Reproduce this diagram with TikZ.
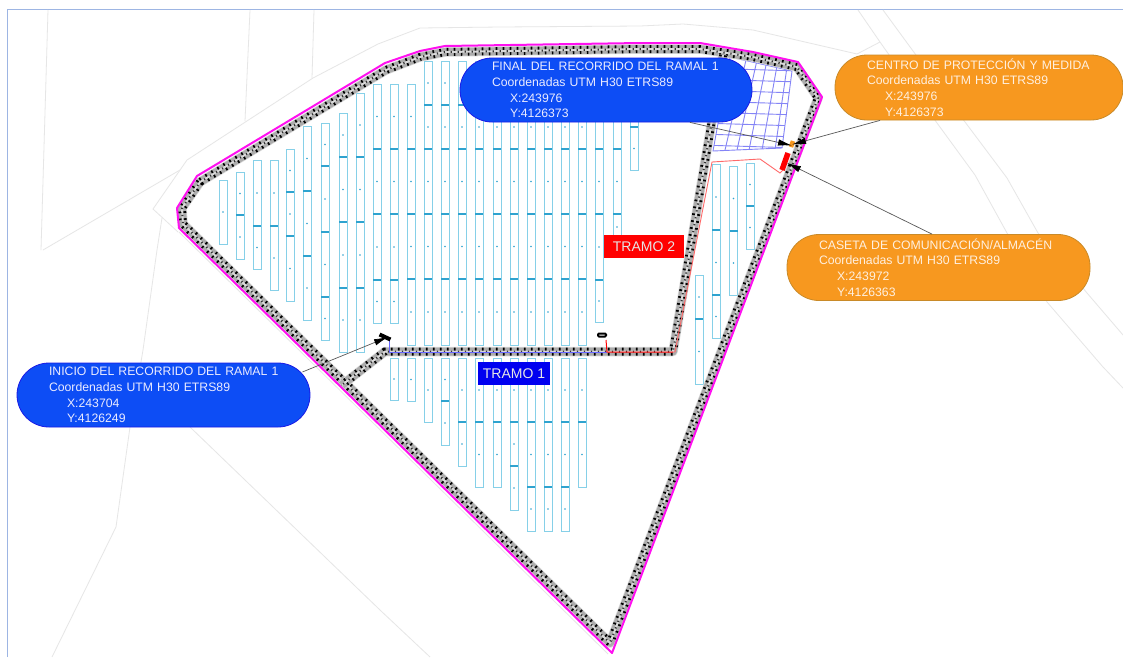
\documentclass[tikz,border=0pt]{standalone}
\usepackage{fontspec}
\setmainfont{Liberation Sans}
\usetikzlibrary{arrows.meta}
\definecolor{frameblue}{HTML}{9DB5E3}
\definecolor{parcel}{HTML}{E6E6E6}
\definecolor{pvline}{HTML}{86D0E8}
\definecolor{pvdiv}{HTML}{2FA3CF}
\definecolor{bblue}{HTML}{0D4DF5}
\definecolor{bblueb}{HTML}{1A1AE6}
\definecolor{borange}{HTML}{F7981F}
\definecolor{borangeb}{HTML}{C98A28}
\definecolor{gridblue}{HTML}{8484F6}
\definecolor{redthin}{HTML}{FF6A6A}
\definecolor{fencepink}{HTML}{FF10F0}
\definecolor{tramoblue}{HTML}{0000F0}
\tikzset{
  parcelline/.style={draw=parcel,line width=0.8pt},
  pvbox/.style={draw=pvline,line width=1pt},
  pvdivider/.style={draw=pvdiv,line width=1.1pt},
  fence/.style={draw=fencepink,line width=2pt,line join=round},
  bubble/.style={rectangle,rounded corners=32pt,inner xsep=32pt,inner ysep=0pt,align=left,
     font=\fontsize{12.25}{15.7}\selectfont,line width=0.8pt},
  bubbleblue/.style={bubble,fill=bblue,draw=bblueb,text=white!92!blue},
  bubbleorange/.style={bubble,fill=borange,draw=borangeb,text=white!88!orange},
  tramo/.style={rectangle,inner sep=0pt,minimum width=72pt,minimum height=23pt,text=white!90!black,
     font=\fontsize{14}{14}\selectfont},
  callout/.style={draw=black!65,line width=0.7pt,-{Latex[black,length=14pt,width=6.5pt]}}
}
% one column of panels: x position, then top, dividers and bottom
\newcommand{\pvcol}[2]{%
  \foreach \yy [count=\ii, remember=\yy as \pp] in {#2}{%
    \ifnum\ii>1
      \draw[pvbox] (#1-4,\pp) rectangle (#1+4,\yy);
      \fill[pvdiv] (#1,{(\pp+\yy)/2}) circle (0.9);
      \ifnum\ii>2 \draw[pvdivider] (#1-4,\pp) -- (#1+4,\pp); \fi
    \fi
  }%
}
% brick wall along a path
\newcommand{\brickwall}[1]{%
  \draw[gray!30,line width=9.5pt,line join=round] #1;
  \draw[gray!65,line width=8pt,line join=round] #1;
  \draw[black,line width=8pt,dash pattern=on 1.7pt off 5.3pt] #1;
  \draw[gray!30,line width=2pt,line join=round] #1;
  \draw[black!80,line width=2pt,dash pattern=on 1.2pt off 5.8pt,dash phase=3.5pt] #1;
}
\begin{document}
\begin{tikzpicture}[x=1pt,y=-1pt]
\useasboundingbox (0,0) rectangle (1123,657);
\fill[white] (0,0) rectangle (1123,657);
% frame
\draw[frameblue,line width=1.5pt] (7.5,657) -- (7.5,9.5) -- (1123,9.5);
% parcels
\draw[parcelline] (48,10) -- (41,250);
\draw[parcelline] (43,250) -- (180,170);
\draw[parcelline] (178,232) -- (153,209) -- (187,160) -- (313,78) -- (378,44) -- (420,28) -- (500,27) -- (640,26) -- (683,24) -- (753,30) -- (857,54) -- (880,42);
\draw[parcelline] (250,10) -- (245,121);
\draw[parcelline] (314,10) -- (312,78);
\draw[parcelline] (162,218) -- (157,250) -- (143,350) -- (130,427) -- (116,527) -- (52,657);
\draw[parcelline] (190,427) -- (380,610) -- (430,657);
\draw[parcelline] (858,10) -- (880,42) -- (937,123) -- (975,175) -- (1007,233) -- (1047,302) -- (1103,367) -- (1123,388);
\draw[parcelline] (883,10) -- (965,122) -- (1007,178) -- (1038,233) -- (1087,293) -- (1123,335);
\draw[parcelline] (179,232) -- (608,654);
% panels, upper block
\pvcol{223}{180,244}
\pvcol{240}{172,215,259}
\pvcol{257}{160,226,269}
\pvcol{274}{160,226,290}
\pvcol{290}{149,192,236,301}
\pvcol{307}{126,191,256,320}
\pvcol{325}{123,166,232,297,340}
\pvcol{343}{113,157,222,288,352}
\pvcol{360}{93,157,222,288,352}
\pvcol{377}{84,149,214,280,323}
\pvcol{394}{84,149,214,280,323}
\pvcol{411}{84,149,214,279,345}
\foreach \cx in {428,445,462,479,497,514,531,548,565,582}{\pvcol{\cx}{61,105,149,214,279,345}}
\pvcol{599}{84,149,214,280,322}
\pvcol{617}{84,149,214,240}
\pvcol{634}{105,127,170}
% panels, lower block
\pvcol{394}{358,400}
\pvcol{411}{358,401}
\pvcol{428}{358,422}
\pvcol{445}{358,401,445}
\pvcol{462}{358,422,466}
\pvcol{479}{358,422,487}
\pvcol{497}{358,422,487}
\pvcol{514}{358,422,466,510}
\pvcol{531}{358,422,487,531}
\pvcol{548}{358,422,487,531}
\pvcol{565}{358,422,487,531}
\pvcol{582}{358,422,487}
% panels, right block
\pvcol{699}{275,319,384}
\pvcol{716}{164,230,295,338}
\pvcol{733.5}{166,231,295}
\pvcol{750}{163,206,249}
% grid of the plot
\begin{scope}
  \clip (730,57) -- (792,71) -- (782,148) -- (713,151) -- cycle;
  \foreach \gy in {57,68,79,90,101,112,123,134,145}{\draw[gridblue,line width=0.9pt] (700,\gy) -- (800,\gy+3);}
  \foreach \gx/\gz in {745/725,756/737,766/749,777/762,787/775}{\draw[gridblue,line width=0.9pt] (\gx+1,60) -- (\gz,150);}
\end{scope}
\draw[gridblue,line width=0.9pt] (730,57) -- (792,71) -- (782,148) -- (713,151) -- cycle;
% perimeter
\brickwall{(200,182) -- (182,208) -- (183,224) -- (610,643) -- (818,98) -- (797,67) -- (753,57) -- (700,49) -- (640,49) -- (445,52) -- (420,57) -- (386,70) -- cycle}
\brickwall{(723,55) -- (673,351.5) -- (385,351.5) -- (342,385)}
\draw[fence] (197,176) -- (177,208) -- (179,228) -- (612,653) -- (822,97) -- (798,62) -- (753,52) -- (700,43) -- (640,43) -- (445,46) -- (420,51) -- (385,63) -- cycle;
% cables
\draw[blue!60,line width=1pt] (389,338) -- (389,352) -- (607,352);
\draw[red,line width=1pt] (606,340) -- (607,352) -- (673,352);
\draw[redthin,line width=0.9pt] (673,352) -- (675,352) -- (712,162) -- (760,159) -- (780,173) -- (783,170);
% equipment
\draw[red,line width=5.5pt] (788,153) -- (782,170);
\draw[borange,line width=4.5pt] (793,141) -- (791,147);
\draw[black,fill=white,line width=2pt,rounded corners=1pt] (598,333.5) rectangle (606,336.5);
\fill[black,rotate around={-25:(385,337)}] (379,335) rectangle (391,339);
% targets of the callouts
\coordinate (startpoint) at (388,337);
\coordinate (endpoint) at (792,145.5);
\coordinate (cpmpoint) at (792,144.5);
\coordinate (casetapoint) at (787,163);
% callouts
\node[bubbleblue,text width=229pt,minimum height=64pt] (inicio) at (163.5,395) {\mbox{INICIO DEL RECORRIDO DEL RAMAL 1}\\Coordenadas UTM H30 ETRS89\\\hspace*{18pt}X:243704\\\hspace*{18pt}Y:4126249};
\node[bubbleblue,text width=228pt,minimum height=64pt] (final) at (606,90) {\mbox{FINAL DEL RECORRIDO DEL RAMAL 1}\\Coordenadas UTM H30 ETRS89\\\hspace*{18pt}X:243976\\\hspace*{18pt}Y:4126373};
\node[bubbleorange,text width=224pt,minimum height=65pt] (cpm) at (979,87.5) {\mbox{CENTRO DE PROTECCIÓN Y MEDIDA}\\Coordenadas UTM H30 ETRS89\\\hspace*{18pt}X:243976\\\hspace*{18pt}Y:4126373};
\node[bubbleorange,text width=239pt,minimum height=66pt] (caseta) at (938.5,267.5) {\mbox{CASETA DE COMUNICACIÓN/ALMACÉN}\\Coordenadas UTM H30 ETRS89\\\hspace*{18pt}X:243972\\\hspace*{18pt}Y:4126363};
\node[tramo,fill=tramoblue] (tramoa) at (514,373.5) {TRAMO 1};
\node[tramo,fill=red,minimum width=80pt] (tramob) at (644,246.5) {TRAMO 2};
% connectors
\draw[callout] ([shift={(-8,-23)}]inicio.east) -- (startpoint);
\draw[callout] ([xshift=84pt]final.south) -- (endpoint);
\draw[callout] ([xshift=-99pt]cpm.south) -- (cpmpoint);
\draw[callout] ([xshift=-6.5pt]caseta.north) -- (casetapoint);
\end{tikzpicture}
\end{document}
